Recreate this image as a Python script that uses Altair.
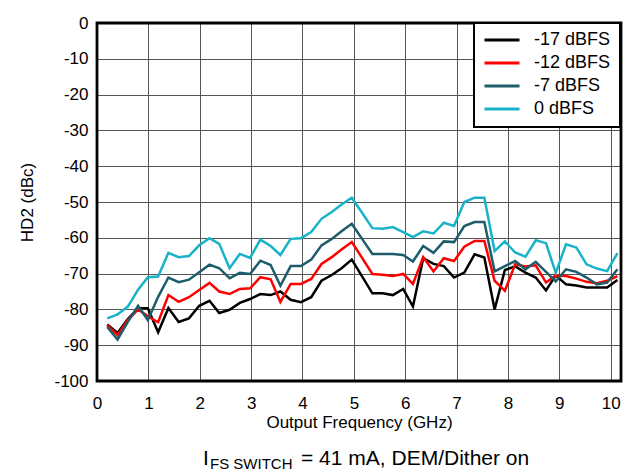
import altair as alt
import pandas as pd

# Output frequency (GHz)
freq_ghz = [0.20, 0.40, 0.60, 0.80, 0.99, 1.19, 1.39, 1.59, 1.79, 1.99,
            2.19, 2.38, 2.58, 2.78, 2.98, 3.18, 3.38, 3.57, 3.77, 3.97,
            4.17, 4.37, 4.57, 4.76, 4.96, 5.16, 5.36, 5.56, 5.76, 5.96,
            6.15, 6.35, 6.55, 6.75, 6.95, 7.15, 7.35, 7.54, 7.74, 7.94,
            8.14, 8.34, 8.54, 8.74, 8.93, 9.13, 9.33, 9.53, 9.73, 9.93, 10.13]

# HD2 (dBc) per amplitude
hd2_m17 = [-84.2, -86.6, -82.7, -79.7, -79.7, -86.4, -79.6, -83.5, -82.5, -79.0,
           -77.6, -81.0, -80.1, -78.2, -77.1, -75.7, -76.0, -75.0, -77.3, -78.0,
           -76.6, -72.0, -70.4, -68.5, -66.1, -70.8, -75.5, -75.5, -76.0, -74.3,
           -79.2, -65.7, -67.3, -67.9, -71.1, -69.7, -64.6, -65.5, -80.0, -69.0,
           -68.0, -69.7, -71.1, -74.7, -70.5, -73.0, -73.3, -73.9, -73.9, -73.9, -71.8]
hd2_m12 = [-84.4, -87.2, -83.0, -80.0, -81.9, -83.6, -76.0, -77.9, -76.6, -74.6,
           -72.6, -75.0, -75.7, -74.3, -74.1, -71.0, -71.6, -77.9, -72.9, -72.9,
           -71.5, -67.3, -65.4, -63.3, -61.2, -65.6, -70.1, -70.3, -70.7, -70.1,
           -72.9, -65.4, -69.4, -65.7, -66.5, -62.5, -60.9, -60.9, -72.0, -74.8,
           -67.4, -68.0, -67.7, -72.5, -70.5, -70.7, -71.4, -72.3, -72.7, -72.0, -70.7]
hd2_m7 = [-84.9, -88.4, -83.5, -79.0, -83.0, -76.5, -71.1, -72.4, -71.7, -69.6,
          -67.5, -68.5, -71.3, -69.8, -70.1, -66.4, -67.6, -73.4, -67.9, -67.9,
          -66.1, -62.1, -60.3, -58.2, -56.1, -60.3, -64.5, -64.5, -64.5, -64.8,
          -66.6, -62.3, -64.2, -61.0, -61.2, -56.7, -55.6, -55.6, -69.4, -67.9,
          -66.5, -68.8, -66.7, -69.5, -72.2, -68.8, -69.5, -71.1, -73.0, -72.5, -68.8]
hd2_0 = [-82.5, -81.4, -79.2, -74.5, -71.0, -70.8, -64.2, -65.4, -65.1, -62.1,
         -60.1, -61.7, -68.5, -64.5, -65.6, -60.5, -62.3, -64.8, -60.3, -60.1,
         -58.4, -54.7, -52.8, -50.7, -48.8, -53.0, -57.3, -57.5, -57.0, -58.4,
         -59.8, -58.2, -58.8, -55.8, -56.7, -50.0, -48.8, -48.8, -63.7, -61.0,
         -64.1, -65.3, -60.7, -61.5, -69.8, -61.8, -62.7, -67.4, -68.6, -69.3, -64.3]

series_names = ["-17 dBFS", "-12 dBFS", "-7 dBFS", "0 dBFS"]
series_colors = ["#000000", "#ff0000", "#1d5c6b", "#19b3c9"]

x_ticks = [0, 1, 2, 3, 4, 5, 6, 7, 8, 9, 10]
y_ticks = [-100, -90, -80, -70, -60, -50, -40, -30, -20, -10, 0]

rows = []
for name, vals in zip(series_names, [hd2_m17, hd2_m12, hd2_m7, hd2_0]):
    for f, v in zip(freq_ghz, vals):
        rows.append({"freq": f, "hd2": v, "series": name})
df = pd.DataFrame(rows)

FONT = "Liberation Sans"
W, H = 524, 358

lines = alt.Chart(df).mark_line(strokeWidth=2.5).encode(
    x=alt.X("freq:Q",
            scale=alt.Scale(domain=[0, 10.2], nice=False, zero=False),
            axis=alt.Axis(values=x_ticks, title="Output Frequency (GHz)",
                          labelExpr="toString(datum.value)",
                          labelPadding=14, titlePadding=3, ticks=False, domain=False,
                          grid=True, gridColor="#555555", gridWidth=1, gridOpacity=1,
                          labelFont=FONT, labelFontSize=17, labelColor="#000000",
                          titleFont=FONT, titleFontSize=17, titleFontWeight="normal",
                          titleColor="#000000", labelFlush=False)),
    y=alt.Y("hd2:Q",
            scale=alt.Scale(domain=[-100, 0], nice=False, zero=False),
            axis=alt.Axis(values=y_ticks, title="HD2 (dBc)",
                          labelExpr="toString(datum.value)",
                          labelPadding=9, titlePadding=17, ticks=False, domain=False,
                          grid=True, gridColor="#555555", gridWidth=1, gridOpacity=1,
                          labelFont=FONT, labelFontSize=17, labelColor="#000000",
                          titleFont=FONT, titleFontSize=17, titleFontWeight="normal",
                          titleColor="#000000", labelFlush=False)),
    color=alt.Color("series:N",
                    scale=alt.Scale(domain=series_names, range=series_colors),
                    sort=series_names,
                    legend=alt.Legend(title=None, orient="none", legendX=377, legendY=0,
                                      symbolType="stroke", symbolSize=1225,
                                      symbolStrokeWidth=3, labelOffset=13,
                                      clipHeight=16, rowPadding=5, padding=9,
                                      labelFont=FONT, labelFontSize=18,
                                      labelColor="#000000",
                                      strokeColor="#000000", fillColor="#ffffff")),
)

frame = alt.Chart(pd.DataFrame({"a": [0]})).mark_rect(
    fill=None, stroke="#000000", strokeWidth=2.8
).encode(x=alt.value(0), x2=alt.value(W), y=alt.value(0), y2=alt.value(H))

sub_I = alt.Chart(pd.DataFrame({"t": ["I"]})).mark_text(
    align="left", baseline="alphabetic", font=FONT, fontSize=21, color="#000000"
).encode(x=alt.value(106), y=alt.value(442), text="t:N")
sub_s = alt.Chart(pd.DataFrame({"t": ["FS  SWITCH"]})).mark_text(
    align="left", baseline="alphabetic", font=FONT, fontSize=15, color="#000000"
).encode(x=alt.value(113), y=alt.value(446), text="t:N")
sub_m = alt.Chart(pd.DataFrame({"t": ["= 41 mA, DEM/Dither on"]})).mark_text(
    align="left", baseline="alphabetic", font=FONT, fontSize=21, color="#000000"
).encode(x=alt.value(204), y=alt.value(442), text="t:N")

chart = alt.layer(lines, frame, sub_I, sub_s, sub_m).properties(
    width=W, height=H,
    padding={"left": 89, "top": 15, "right": 6, "bottom": 90},
    autosize="none",
).configure_view(stroke=None).configure_legend(strokeWidth=2)

chart.save("out.html", embed_options={"renderer": "svg", "actions": False})
